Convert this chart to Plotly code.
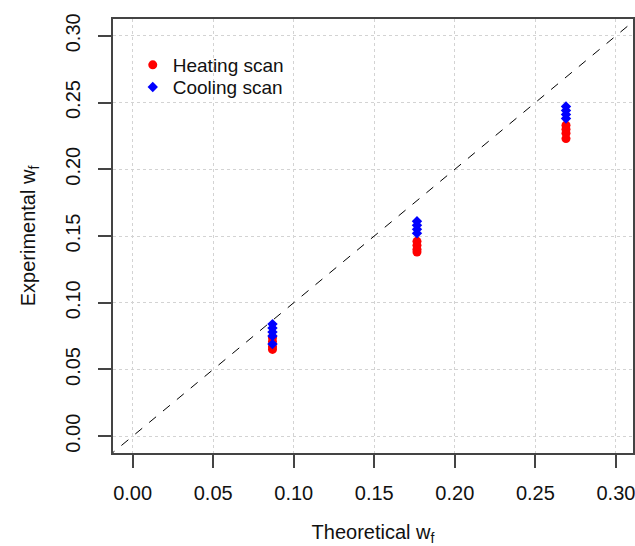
import plotly.graph_objects as go

theory = [0.0868, 0.1765, 0.269]

heat_x = [0.0868]*4 + [0.1765]*4 + [0.269]*4
heat_y = [0.074, 0.071, 0.067, 0.065,
          0.146, 0.143, 0.140, 0.138,
          0.233, 0.230, 0.227, 0.223]
cool_x = [0.0868]*5 + [0.1765]*4 + [0.269]*4
cool_y = [0.084, 0.081, 0.078, 0.075, 0.069,
          0.161, 0.158, 0.155, 0.152,
          0.247, 0.244, 0.241, 0.238]

ticks = [0.00, 0.05, 0.10, 0.15, 0.20, 0.25, 0.30]
tick_labels = ["0.00", "0.05", "0.10", "0.15", "0.20", "0.25", "0.30"]
x_rng = [-0.0122, 0.3106]
y_rng = [-0.0126, 0.3126]

fig = go.Figure()
fig.add_trace(go.Scatter(x=[-0.05, 0.35], y=[-0.05, 0.35], mode="lines",
                         line=dict(color="black", width=1, dash="dash"),
                         showlegend=False, hoverinfo="skip"))
fig.add_trace(go.Scatter(x=heat_x, y=heat_y, mode="markers", name="Heating scan",
                         legend="legend",
                         marker=dict(symbol="circle", color="#ff0000", size=9)))
fig.add_trace(go.Scatter(x=cool_x, y=cool_y, mode="markers", name="Cooling scan",
                         legend="legend2",
                         marker=dict(symbol="diamond", color="#0000ff", size=8)))

axis_common = dict(tickvals=ticks, ticktext=tick_labels, automargin=False,
                   showgrid=True, gridcolor="#d3d3d3", griddash="dot", gridwidth=1,
                   zeroline=False, showline=True, linecolor="#444444", linewidth=1.5,
                   mirror=True, ticks="outside", ticklen=13, tickcolor="#444444",
                   tickwidth=1.5, tickfont=dict(size=20, color="#111111"),
                   ticklabeloverflow="allow")

fig.update_xaxes(**axis_common, range=x_rng, ticklabelstandoff=8,
                 title=dict(text="Theoretical w<sub>f</sub>", font=dict(size=20, color="#111111"),
                            standoff=30))
fig.update_yaxes(**axis_common, range=y_rng, tickangle=-90, ticklabelstandoff=10,
                 title=dict(text="Experimental w<sub>f</sub>", font=dict(size=20, color="#111111"),
                            standoff=21))

leg_common = dict(x=0.038, xanchor="left", yanchor="middle",
                  bgcolor="rgba(0,0,0,0)", font=dict(size=19), itemwidth=30)
fig.update_layout(
    width=635, height=546,
    margin=dict(l=113, r=2, t=19, b=93),
    plot_bgcolor="white", paper_bgcolor="white",
    font=dict(family="Liberation Sans, Arial, sans-serif", color="#111111"),
    showlegend=True,
    legend=dict(y=0.894, **leg_common),
    legend2=dict(y=0.843, **leg_common),
)

fig.write_html("out.html", config={"displayModeBar": False},
               post_script="document.body.style.margin='0';")
